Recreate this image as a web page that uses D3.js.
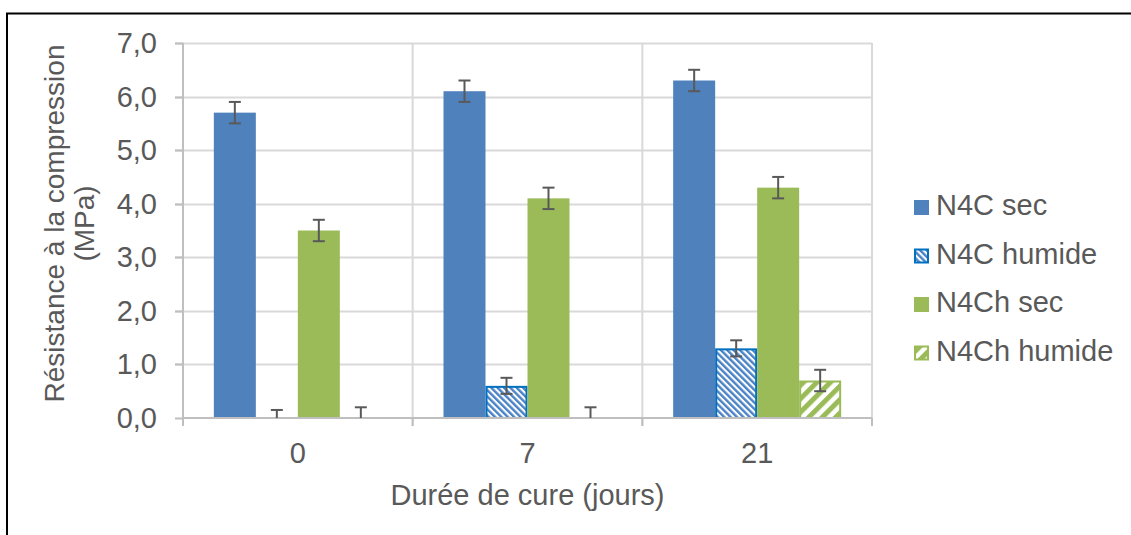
<!DOCTYPE html>
<html><head><meta charset="utf-8">
<script src="https://cdn.jsdelivr.net/npm/d3@7"></script>
<style>body{margin:0;background:#fff}svg{display:block}text{font-family:"Liberation Sans",Arial,sans-serif;fill:#595959}</style>
</head><body><svg id="c" width="1131" height="535"></svg>
<script>
const categories = ["0", "7", "21"];
const seriesNames = ["N4C sec", "N4C humide", "N4Ch sec", "N4Ch humide"];
const n4cSec = [5.7, 6.1, 6.3];
const n4cHumide = [0, 0.6, 1.3];
const n4chSec = [3.5, 4.1, 4.3];
const n4chHumide = [0, 0, 0.7];
const errN4cSec = [0.2, 0.2, 0.2];
const errN4cHumide = [0.15, 0.15, 0.15];
const errN4chSec = [0.2, 0.2, 0.2];
const errN4chHumide = [0.2, 0.2, 0.2];
const yTicks = [0, 1, 2, 3, 4, 5, 6, 7];
const xTitle = "Durée de cure (jours)";
const yTitle = ["Résistance à la compression", "(MPa)"];

const values = [n4cSec, n4cHumide, n4chSec, n4chHumide];
const errs = [errN4cSec, errN4cHumide, errN4chSec, errN4chHumide];

const svg = d3.select("#c");
const L = 183, R = 872, T = 43, B = 418;
const FS = 29;
const y = d3.scaleLinear().domain([0, 7]).range([B, T]);
const x0 = d3.scaleBand().domain(categories).range([L, R]).padding(0);
const x1 = d3.scaleBand().domain(seriesNames).range([0, x0.bandwidth()]).paddingInner(0).paddingOuter(0.734);

// patterns
const defs = svg.append("defs");
const pb = defs.append("pattern").attr("id", "hatchBlue").attr("patternUnits", "userSpaceOnUse")
  .attr("width", 4.5).attr("height", 4.5).attr("patternTransform", "rotate(-45)");
pb.append("rect").attr("width", 4.5).attr("height", 4.5).attr("fill", "#fff");
pb.append("rect").attr("width", 2.4).attr("height", 4.5).attr("fill", "#4a82c6");
const pg = defs.append("pattern").attr("id", "hatchGreen").attr("patternUnits", "userSpaceOnUse")
  .attr("width", 9.5).attr("height", 9.5).attr("patternTransform", "rotate(45)");
pg.append("rect").attr("width", 9.5).attr("height", 9.5).attr("fill", "#fff");
pg.append("rect").attr("width", 5).attr("height", 9.5).attr("fill", "#9BBB59");

const fills = ["#4F81BD", "url(#hatchBlue)", "#9BBB59", "url(#hatchGreen)"];
const strokes = [null, "#0070C0", null, "#9BBB59"];

// frame
svg.append("rect").attr("x", 7).attr("y", 13.5).attr("width", 1300).attr("height", 700)
  .attr("fill", "none").attr("stroke", "#000").attr("stroke-width", 2);

// horizontal gridlines
svg.append("g").selectAll("line").data(yTicks.filter(d => d > 0)).join("line")
  .attr("x1", L - 8).attr("x2", R).attr("y1", d => Math.round(y(d)) + 0.5).attr("y2", d => Math.round(y(d)) + 0.5)
  .attr("stroke", "#d9d9d9").attr("stroke-width", 2);
// vertical separators
const bounds = categories.map(c => x0(c)).concat([R]);
svg.append("g").selectAll("line").data(bounds).join("line")
  .attr("x1", d => d).attr("x2", d => d).attr("y1", T).attr("y2", B + 8)
  .attr("stroke", "#d9d9d9").attr("stroke-width", 2);
// y axis line
svg.append("line").attr("x1", L).attr("x2", L).attr("y1", T).attr("y2", B + 8).attr("stroke", "#bfbfbf").attr("stroke-width", 2);
// y tick marks
svg.append("g").selectAll("line").data(yTicks).join("line")
  .attr("x1", L - 8).attr("x2", L).attr("y1", d => Math.round(y(d)) + 0.5).attr("y2", d => Math.round(y(d)) + 0.5)
  .attr("stroke", "#bfbfbf").attr("stroke-width", 2);

// bars
const g = svg.append("g");
seriesNames.forEach((s, si) => {
  g.append("g").selectAll("rect").data(values[si]).join("rect")
    .attr("x", (d, i) => x0(categories[i]) + x1(s) + (strokes[si] ? 1 : 0))
    .attr("width", x1.bandwidth() - (strokes[si] ? 2 : 0))
    .attr("y", d => y(d) + (strokes[si] ? 1 : 0))
    .attr("height", d => Math.max(0, B - y(d) - (strokes[si] ? 1 : 0)))
    .attr("fill", fills[si])
    .attr("stroke", d => d > 0 ? strokes[si] : null)
    .attr("stroke-width", 2)
    .attr("display", d => d > 0 ? null : "none");
});

// x axis line
svg.append("line").attr("x1", L).attr("x2", R).attr("y1", B).attr("y2", B).attr("stroke", "#bfbfbf").attr("stroke-width", 2);
svg.append("g").selectAll("line").data(bounds).join("line")
  .attr("x1", d => d).attr("x2", d => d).attr("y1", B).attr("y2", B + 8)
  .attr("stroke", "#bfbfbf").attr("stroke-width", 2);

// error bars
const eg = svg.append("g").attr("stroke", "#595959").attr("stroke-width", 2);
seriesNames.forEach((s, si) => {
  values[si].forEach((v, i) => {
    const cx = x0(categories[i]) + x1(s) + x1.bandwidth() / 2;
    const lo = Math.max(0, v - errs[si][i]), hi = v + errs[si][i];
    eg.append("line").attr("x1", cx).attr("x2", cx).attr("y1", y(lo)).attr("y2", y(hi));
    eg.append("line").attr("x1", cx - 6).attr("x2", cx + 6).attr("y1", y(hi)).attr("y2", y(hi));
    if (v - errs[si][i] > 0)
      eg.append("line").attr("x1", cx - 6).attr("x2", cx + 6).attr("y1", y(lo)).attr("y2", y(lo));
  });
});

// y tick labels
const fmt = d => d3.format(".1f")(d).replace(".", ",");
svg.append("g").selectAll("text").data(yTicks).join("text")
  .attr("x", 157).attr("y", d => y(d) + 10).attr("text-anchor", "end")
  .attr("font-size", FS).text(fmt);

// x category labels
svg.append("g").selectAll("text").data(categories).join("text")
  .attr("x", d => x0(d) + x0.bandwidth() / 2).attr("y", 463).attr("text-anchor", "middle")
  .attr("font-size", FS).text(d => d);

// axis titles
svg.append("text").attr("x", (L + R) / 2).attr("y", 505).attr("text-anchor", "middle")
  .attr("font-size", FS).text(xTitle);
yTitle.forEach((t, i) => {
  svg.append("text").attr("transform", `translate(${64 + i * 30},${(T + B) / 2 - 7}) rotate(-90)`)
    .attr("text-anchor", "middle").attr("font-size", 28).text(t);
});

// legend
const lg = svg.append("g");
seriesNames.forEach((s, si) => {
  const by = 215 + si * 48.5;
  lg.append("rect").attr("x", strokes[si] ? 915 : 914).attr("y", by - 15 + (strokes[si] ? 1 : 0))
    .attr("width", strokes[si] ? 13 : 15).attr("height", strokes[si] ? 13 : 15)
    .attr("fill", fills[si]).attr("stroke", strokes[si]).attr("stroke-width", 2);
  lg.append("text").attr("x", 936).attr("y", by).attr("font-size", FS).text(s);
});
</script></body></html>
